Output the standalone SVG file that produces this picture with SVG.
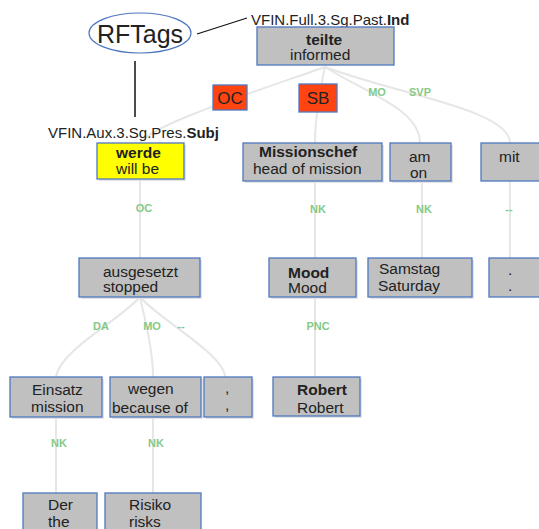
<svg xmlns="http://www.w3.org/2000/svg" width="539" height="529" viewBox="0 0 539 529">
<style>
.box{fill:#c0c0c0;stroke:#4f78c0;stroke-width:1.3}
.shadow{fill:#e4e4e4}
.yel{fill:#ffff00;stroke:#4f78c0;stroke-width:1.3}
.red{fill:#ff4411;stroke:#4f78c0;stroke-width:1.3}
.t{font-family:"Liberation Sans",Arial,sans-serif;font-size:15.5px;fill:#222}
.b{font-weight:bold}
.lbl{font-family:"Liberation Sans",Arial,sans-serif;font-size:11px;font-weight:bold;fill:#86c986;text-anchor:middle}
.con{fill:none;stroke:#e6e6e6;stroke-width:2}
.ann{font-family:"Liberation Sans",Arial,sans-serif;font-size:15px;fill:#222}
</style>
<rect width="539" height="529" fill="#ffffff"/>
<g id="connectors">
<path class="con" d="M325,67 C260,90 150,125 140,143"/>
<path class="con" d="M325,67 C320,90 315,115 315,143"/>
<path class="con" d="M325,67 C370,95 420,110 420,143"/>
<path class="con" d="M325,67 C400,95 510,110 510,143"/>
<path class="con" d="M140,179 L140,258"/>
<path class="con" d="M315,181 L315,258"/>
<path class="con" d="M422,181 L422,258"/>
<path class="con" d="M510,181 L510,258"/>
<path class="con" d="M315,297 L315,377"/>
<path class="con" d="M140,297 C120,320 60,350 56,377"/>
<path class="con" d="M140,297 C145,320 153,350 153,377"/>
<path class="con" d="M140,297 C160,320 225,355 225,377"/>
<path class="con" d="M56,417 L56,493"/>
<path class="con" d="M153,417 L153,493"/>
<path d="M197,34 L247,18" stroke="#111" stroke-width="1.2" fill="none"/>
<path d="M135,61 L135,117" stroke="#111" stroke-width="1.5" fill="none"/>
</g>
<g id="labels">
<text class="lbl" x="144" y="212">OC</text>
<text class="lbl" x="377" y="96">MO</text>
<text class="lbl" x="420" y="96">SVP</text>
<text class="lbl" x="318" y="213">NK</text>
<text class="lbl" x="424" y="213">NK</text>
<text class="lbl" x="509" y="213">--</text>
<text class="lbl" x="318" y="330">PNC</text>
<text class="lbl" x="101" y="330">DA</text>
<text class="lbl" x="152" y="330">MO</text>
<text class="lbl" x="181" y="330">--</text>
<text class="lbl" x="59" y="447">NK</text>
<text class="lbl" x="156" y="447">NK</text>
</g>
<g id="rftags">
<ellipse cx="140" cy="33" rx="51" ry="20" fill="none" stroke="#4f78c0" stroke-width="1.2"/>
<text x="140" y="43" text-anchor="middle" font-family="'Liberation Sans',Arial,sans-serif" font-size="25" fill="#222">RFTags</text>
</g>
<g id="ann-full"><text class="ann" x="251" y="25">VFIN.Full.3.Sg.Past.<tspan class="b">Ind</tspan></text></g>
<g id="ann-aux"><text class="ann" x="48" y="138">VFIN.Aux.3.Sg.Pres.<tspan class="b">Subj</tspan></text></g>
<g id="oc-tag"><rect class="red" x="213" y="85" width="34" height="25"/><text x="230" y="104" text-anchor="middle" font-family="'Liberation Sans',Arial,sans-serif" font-size="17" fill="#222">OC</text></g>
<g id="sb-tag"><rect class="red" x="299" y="84" width="38" height="28"/><text x="318" y="104" text-anchor="middle" font-family="'Liberation Sans',Arial,sans-serif" font-size="17" fill="#222">SB</text></g>
<g id="teilte"><rect class="box" x="257" y="27" width="137" height="38"/><text class="t b" x="306" y="45">teilte</text><text class="t" x="290" y="59.5">informed</text></g>
<g id="werde"><rect class="shadow" x="99" y="145" width="87" height="36"/><rect class="yel" x="97" y="143" width="87" height="36"/><text class="t b" x="116" y="158">werde</text><text class="t" x="116" y="174">will be</text></g>
<g id="missionschef"><rect class="shadow" x="245" y="145" width="139" height="38"/><rect class="box" x="243" y="143" width="139" height="38"/><text class="t b" x="259" y="157">Missionschef</text><text class="t" x="253" y="174">head of mission</text></g>
<g id="am"><rect class="shadow" x="392" y="145" width="61" height="38"/><rect class="box" x="390" y="143" width="61" height="38"/><text class="t" x="409" y="162">am</text><text class="t" x="410" y="178">on</text></g>
<g id="mit"><rect class="box" x="481" y="143" width="70" height="38"/><text class="t" x="499" y="162">mit</text></g>
<g id="ausgesetzt"><rect class="shadow" x="81" y="260" width="121" height="39"/><rect class="box" x="79" y="258" width="121" height="39"/><text class="t" x="103" y="277">ausgesetzt</text><text class="t" x="103" y="292">stopped</text></g>
<g id="mood"><rect class="shadow" x="271" y="260" width="87" height="39"/><rect class="box" x="269" y="258" width="87" height="39"/><text class="t b" x="288" y="278">Mood</text><text class="t" x="288" y="293">Mood</text></g>
<g id="samstag"><rect class="shadow" x="370" y="260" width="104" height="39"/><rect class="box" x="368" y="258" width="104" height="39"/><text class="t" x="379" y="274">Samstag</text><text class="t" x="378" y="291">Saturday</text></g>
<g id="dot"><rect class="box" x="489" y="258" width="70" height="39"/><text class="t" x="508" y="275">.</text><text class="t" x="508" y="291">.</text></g>
<g id="einsatz"><rect class="shadow" x="12" y="379" width="92" height="40"/><rect class="box" x="10" y="377" width="92" height="40"/><text class="t" x="32" y="395">Einsatz</text><text class="t" x="31" y="412">mission</text></g>
<g id="wegen"><rect class="shadow" x="112" y="379" width="91" height="40"/><rect class="box" x="110" y="377" width="91" height="40"/><text class="t" x="128" y="394">wegen</text><text class="t" x="112" y="413">because of</text></g>
<g id="comma"><rect class="shadow" x="206" y="379" width="48" height="40"/><rect class="box" x="204" y="377" width="48" height="40"/><text class="t" x="225" y="393">,</text><text class="t" x="225" y="410">,</text></g>
<g id="robert"><rect class="shadow" x="275" y="379" width="87" height="39"/><rect class="box" x="273" y="377" width="87" height="39"/><text class="t b" x="297" y="395">Robert</text><text class="t" x="297" y="413">Robert</text></g>
<g id="der"><rect class="box" x="23" y="493" width="74" height="45"/><text class="t" x="48" y="510">Der</text><text class="t" x="48" y="527">the</text></g>
<g id="risiko"><rect class="box" x="105" y="493" width="96" height="45"/><text class="t" x="129" y="510">Risiko</text><text class="t" x="129" y="527">risks</text></g>
</svg>
